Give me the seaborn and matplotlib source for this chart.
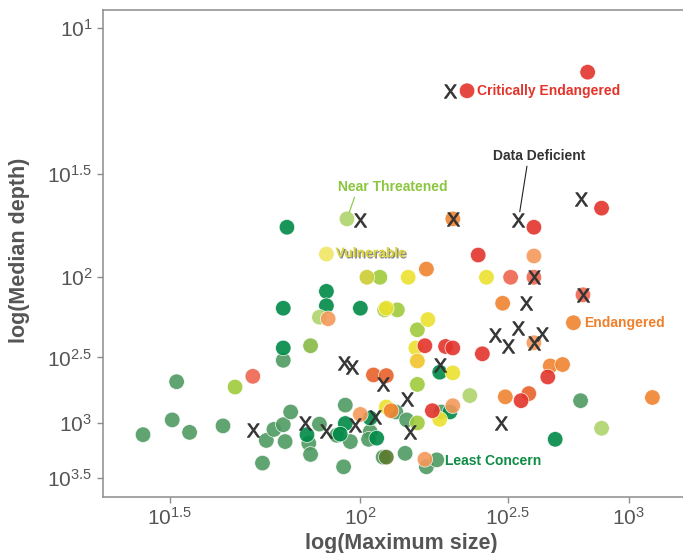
import matplotlib
matplotlib.use('Agg')
import matplotlib.pyplot as plt
import matplotlib.patheffects as pe
from matplotlib.ticker import NullLocator
import seaborn as sns
import pandas as pd

# log10 values (x: log max size, y: log median depth)
cr_size = [2.35, 2.82, 2.88, 2.60, 2.39, 2.205, 2.275, 2.30, 2.405, 2.655, 2.55, 2.23]
cr_depth = [1.19, 1.13, 1.65, 1.74, 1.88, 2.42, 2.425, 2.435, 2.475, 2.64, 2.82, 2.90]
cr_pale_size = [2.51, 2.60, 2.80, 1.70]
cr_pale_depth = [2.00, 2.00, 2.10, 2.635]

en_size = [2.30, 2.21, 2.48, 2.76, 2.665, 2.715, 2.49, 3.11, 2.095]
en_depth = [1.70, 1.955, 2.15, 2.27, 2.56, 2.55, 2.79, 2.795, 2.90]
en_pale_size = [2.60, 1.905, 2.60, 2.00, 2.30, 2.205]
en_pale_depth = [1.885, 2.245, 2.40, 2.93, 2.86, 3.32]
en_red_size = [2.04, 2.08, 2.58]
en_red_depth = [2.625, 2.63, 2.765]

vu_size = [2.15, 2.42, 2.08, 2.215, 2.175, 2.30, 2.08, 2.255]
vu_depth = [2.00, 2.00, 2.18, 2.25, 2.435, 2.61, 2.87, 2.97]
vu_pale_size = [1.90]
vu_pale_depth = [1.875]
vu_gold_size = [2.18]
vu_gold_depth = [2.525]
vu_olive_size = [2.02]
vu_olive_depth = [2.00]

nt_size = [2.06, 2.075, 2.115, 2.18, 1.655, 2.18, 2.18]
nt_depth = [2.00, 2.19, 2.19, 2.315, 2.715, 2.695, 3.00]
nt_pale_size = [1.96, 1.88, 2.36, 2.88]
nt_pale_depth = [1.70, 2.235, 2.78, 3.045]
nt_mid_size = [1.855]
nt_mid_depth = [2.42]

lc_dark_size = [1.79, 1.90, 1.78, 1.90, 2.00, 1.78, 2.255, 2.685, 1.845, 1.955,
                1.94, 2.03, 2.05, 2.29]
lc_dark_depth = [1.74, 2.08, 2.18, 2.165, 2.18, 2.435, 2.605, 3.14, 3.10, 3.005,
                 3.095, 2.96, 3.13, 2.91]
lc_size = [1.78, 2.79, 1.515, 1.44, 1.505, 1.545, 1.625, 1.735, 1.725, 1.755,
           1.78, 1.80, 1.785, 1.88, 1.85, 1.855, 1.955, 1.93, 1.97, 1.95,
           2.03, 2.025, 2.11, 2.07, 2.145, 2.14, 2.26, 2.21, 2.245]
lc_depth = [2.52, 2.82, 2.675, 3.10, 2.975, 3.08, 3.025, 3.15, 3.355, 3.055,
            3.015, 2.91, 3.16, 3.01, 3.175, 3.275, 2.855, 3.105, 3.16, 3.39,
            3.075, 3.14, 2.91, 3.30, 2.975, 3.265, 2.91, 3.39, 3.325]
lc_olive_size = [2.08]
lc_olive_depth = [3.30]

dd_size = [2.29, 2.79, 2.00, 2.30, 2.54, 2.60, 2.80, 2.57, 2.45, 2.50,
           2.54, 2.63, 2.60, 1.95, 1.975, 2.255, 2.07, 2.145, 2.475, 1.70,
           1.84, 1.90, 1.985, 2.045, 2.155]
dd_depth = [1.19, 1.61, 1.705, 1.70, 1.705, 2.00, 2.10, 2.15, 2.35, 2.42,
            2.305, 2.34, 2.40, 2.54, 2.57, 2.555, 2.695, 2.805, 3.00, 3.06,
            3.00, 3.07, 3.02, 2.95, 3.075]

x_ticks = [1.5, 2, 2.5, 3]
y_ticks = [1, 1.5, 2, 2.5, 3, 3.5]

palette = {
    'lc': '#4f9a62', 'lc_dark': '#008a47', 'lc_olive': '#5a7a2e',
    'nt': '#9fcb3b', 'nt_pale': '#afd46c', 'nt_mid': '#87b944',
    'vu': '#ebe22f', 'vu_pale': '#f0e664', 'vu_gold': '#f2c42c', 'vu_olive': '#cccc33',
    'en': '#f08430', 'en_pale': '#f4995a', 'en_red': '#e8622a',
    'cr': '#e3342c', 'cr_pale': '#ee6650',
}

groups = [
    ('lc', lc_size, lc_depth), ('lc_olive', lc_olive_size, lc_olive_depth),
    ('lc_dark', lc_dark_size, lc_dark_depth),
    ('nt', nt_size, nt_depth), ('nt_pale', nt_pale_size, nt_pale_depth),
    ('nt_mid', nt_mid_size, nt_mid_depth),
    ('vu', vu_size, vu_depth), ('vu_pale', vu_pale_size, vu_pale_depth),
    ('vu_gold', vu_gold_size, vu_gold_depth), ('vu_olive', vu_olive_size, vu_olive_depth),
    ('en', en_size, en_depth), ('en_pale', en_pale_size, en_pale_depth),
    ('en_red', en_red_size, en_red_depth),
    ('cr', cr_size, cr_depth), ('cr_pale', cr_pale_size, cr_pale_depth),
]
circles = pd.concat([pd.DataFrame({'size': s, 'depth': d, 'tone': t}) for t, s, d in groups],
                    ignore_index=True)
dd = pd.DataFrame({'size': dd_size, 'depth': dd_depth})

sns.set_theme(style='white')
plt.rcParams['font.family'] = ['Liberation Sans', 'DejaVu Sans']
plt.rcParams['mathtext.fontset'] = 'custom'
plt.rcParams['mathtext.rm'] = 'Liberation Sans'
plt.rcParams['mathtext.sf'] = 'Liberation Sans'
plt.rcParams['mathtext.it'] = 'Liberation Sans:italic'
plt.rcParams['mathtext.bf'] = 'Liberation Sans:bold'

fig = plt.figure(figsize=(6.83, 5.53), dpi=100)
ax = fig.add_axes([0.1504, 0.1013, 0.8745, 0.8807])

sns.scatterplot(data=circles, x='size', y='depth', hue='tone', palette=palette,
                s=125, alpha=0.9, edgecolor='white', linewidth=0.5, legend=False, ax=ax)
sns.scatterplot(data=dd, x='size', y='depth', marker=r'$\mathsf{X}$', color='#333333',
                s=95, edgecolor='#333333', linewidth=0.6, legend=False, ax=ax, zorder=3)

ax.set_xscale('log')
ax.set_yscale('log')
ax.set_xlim(1.3549, 3.342)
ax.set_ylim(3.687, 0.9503)
ax.set_xticks(x_ticks)
ax.set_xticklabels([r'$\mathregular{10^{%g}}$' % t for t in x_ticks])
ax.set_yticks(y_ticks)
ax.set_yticklabels([r'$\mathregular{10^{%g}}$' % t for t in y_ticks])
ax.xaxis.set_minor_locator(NullLocator())
ax.yaxis.set_minor_locator(NullLocator())
ax.tick_params(bottom=True, left=True, direction='out', length=4.5, width=1,
               color='#8c8c8c', labelsize=15, labelcolor='#555555', pad=3)

for side in ['left', 'top', 'bottom']:
    ax.spines[side].set_color('#8c8c8c')
    ax.spines[side].set_linewidth(1.1)
ax.spines['right'].set_visible(False)

ax.set_xlabel('log(Maximum size)', fontsize=15.5, fontweight='bold', color='#555555')
ax.set_ylabel('log(Median depth)', fontsize=15.5, fontweight='bold', color='#555555')
ax.xaxis.set_label_coords(0.5, -0.074)
ax.yaxis.set_label_coords(-0.122, 0.507)

lab = dict(fontsize=10, fontweight='bold', textcoords='offset pixels', va='center')
ax.annotate('Critically Endangered', xy=(2.35, 1.19), xytext=(10, 0), ha='left',
            color='#e3332a', **lab)
ax.annotate('Endangered', xy=(2.76, 2.27), xytext=(11, 0), ha='left', color='#f07f2b', **lab)
ax.annotate('Least Concern', xy=(2.245, 3.325), xytext=(8, -1), ha='left', color='#0f8c45', **lab)
ax.annotate('Vulnerable', xy=(1.90, 1.875), xytext=(9, 1), ha='left', color='#ddd53c',
            path_effects=[pe.SimplePatchShadow(offset=(1, -1), shadow_rgbFace='#555555', alpha=0.7),
                          pe.Normal()], **lab)
ax.annotate('Near Threatened', xy=(1.96, 1.70), xytext=(46, 32), ha='center', color='#8cc63f',
            arrowprops=dict(arrowstyle='-', color='#8cc63f', lw=0.8, shrinkA=0, shrinkB=5,
                            relpos=(0.16, 0.0)), **lab)
ax.annotate('Data Deficient', xy=(2.54, 1.705), xytext=(21, 64), ha='center', color='#333333',
            arrowprops=dict(arrowstyle='-', color='#222222', lw=0.8, shrinkA=0, shrinkB=6,
                            relpos=(0.37, 0.0)), **lab)

fig.savefig('out.png', dpi=100)
